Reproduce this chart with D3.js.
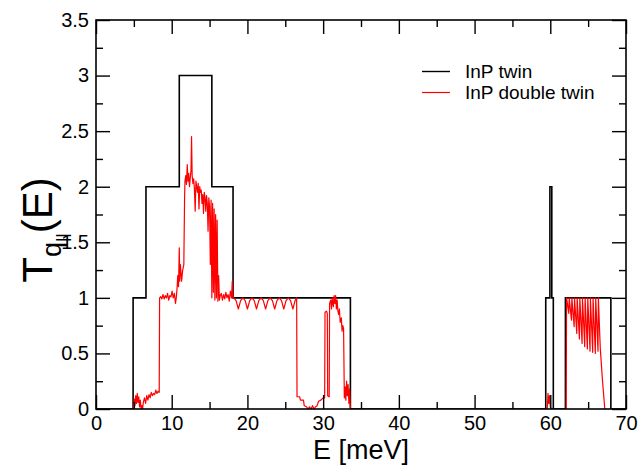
<!DOCTYPE html>
<html>
<head>
<meta charset="utf-8">
<script src="https://cdn.jsdelivr.net/npm/d3@7"></script>
<style>
  body { margin: 0; background: #fff; }
  svg text { font-family: "Liberation Sans", Arial, sans-serif; fill: #000; }
</style>
</head>
<body>
<svg id="chart" width="640" height="465"></svg>
<script>
// tick values / labels
var xMajor = [0, 10, 20, 30, 40, 50, 60, 70];
var xMinor = [5, 15, 25, 35, 45, 55, 65];
var yMajor = [0, 0.5, 1, 1.5, 2, 2.5, 3, 3.5];
var yMinor = [0.25, 0.75, 1.25, 1.75, 2.25, 2.75, 3.25];
var yLabels = ["0", "0.5", "1", "1.5", "2", "2.5", "3", "3.5"];
var seriesNames = ["InP twin", "InP double twin"];
var seriesColors = ["#000000", "#ff0000"];

// InP twin : step function (level holds from edge i to edge i+1)
var twinE = [0, 4.9, 6.6, 11.0, 15.3, 18.1, 33.6, 59.4, 59.95, 60.2, 60.4, 62.0, 68.0, 70];
var twinT = [0, 1, 2, 3, 2, 1, 0, 1, 2, 1, 0, 1, 0, 0];

// InP double twin (NaN = gap in the curve)
var dblE = [
  4.95, 5.05, 5.15, 5.25, 5.35, 5.45, 5.55, 5.65, 5.75, 5.85, 5.95, 6.05, 6.15, 6.25, 6.4, 6.55, 6.7, 6.85, 7.0, 7.15, 7.3, 7.45, 7.6, 7.75, 7.9, 8.05, 8.2, 8.35,
  8.4, 8.55, 8.7, 8.85, 9.0, 9.15, 9.3, 9.45, 9.6, 9.75, 9.9, 10.05, 10.2, 10.35, 10.5, 10.6, 10.7,
  10.8, 10.9, 11.0, 11.05, 11.15, 11.3, 11.45, 11.6, 11.7,
  11.75, 11.85, 11.95, 12.05, 12.15, 12.25, 12.35, 12.45, 12.55, 12.62, 12.7, 12.8, 12.9, 13.0, 13.1, 13.2, 13.3, 13.4, 13.5, 13.6, 13.7, 13.8, 13.9, 14.0,
  14.1, 14.2, 14.3, 14.4, 14.5, 14.6, 14.7, 14.8, 14.9, 15.0, 15.1, 15.2, 15.3, 15.4, 15.5, 15.6, 15.7, 15.8, 15.9, 16.0, 16.1, 16.2, 16.3, 16.4,
  16.55, 16.7, 16.85, 17.0, 17.15, 17.3, 17.45, 17.6, 17.75, 17.9, 18.0, 18.1,
  18.2, 18.5, 18.8, 19.1, 19.4, 19.7, 20.0, 20.3, 20.6, 20.9, 21.2, 21.5, 21.8, 22.1, 22.4, 22.7, 23.0, 23.3, 23.6, 23.9, 24.2, 24.5, 24.8, 25.1, 25.4, 25.7, 26.0, 26.3, 26.5,
  26.55, 26.9, 27.0, 27.4, 27.5, 27.8, 28.0, 28.2, 28.4, 28.6, 28.8, 29.0, 29.2, 29.4, 29.7, 30.0, 30.2, 30.25, 30.45, 30.55, 30.6, 30.8, 30.85, 31.0, 31.1, 31.2,
  31.35, 31.45, 31.55, 31.65, 31.75, 31.85, 31.95, 32.05, 32.15, 32.25, 32.4, 32.5, 32.6, 32.7, 32.8, 32.9, 33.0, 33.1, 33.2, 33.3, 33.4, 33.5, 33.6, 33.7,
  NaN,
  59.6, 59.7, 59.8, 59.9, 60.0, 60.1,
  NaN,
  62.0, 62.1, 62.15, 62.45, 62.5, 62.8, 62.85, 63.15, 63.2, 63.5, 63.55, 63.85, 63.9, 64.2, 64.25, 64.55, 64.6, 64.9, 64.95, 65.25, 65.3, 65.6, 65.65, 65.95, 66.0, 66.3, 66.35, 66.6, 66.9, 67.2
];
var dblT = [
  0, 0.09, 0.03, 0.12, 0.05, 0.14, 0.06, 0.11, 0.02, 0.08, 0.0, 0.03, 0.0, 0.06, 0.1, 0.05, 0.12, 0.08, 0.13, 0.1, 0.15, 0.12, 0.14, 0.13, 0.17, 0.14, 0.16, 0.15,
  1.0, 1.01, 0.99, 1.03, 0.99, 1.02, 1.0, 1.04, 0.98, 1.02, 1.01, 1.06, 1.0, 1.04, 0.95, 1.0, 1.08,
  1.2, 1.1, 1.45, 1.15, 1.3, 1.15, 1.25, 1.3, 1.9,
  2.05, 2.1, 2.02, 2.2, 2.05, 2.12, 2.0, 2.08, 2.15, 2.45, 2.1, 2.03, 2.07, 1.98, 1.78, 2.05, 2.0, 1.95, 2.03, 1.8, 2.0, 1.95, 1.97, 1.85,
  1.93, 1.76, 1.95, 1.9, 1.78, 1.92, 1.85, 1.6, 1.9, 1.82, 1.3, 1.88, 1.0, 1.85, 1.05, 1.8, 0.98, 1.75, 1.0, 1.7, 0.97, 1.2, 0.98, 1.02,
  1.04, 0.98, 1.03, 0.99, 1.05, 1.0, 1.03, 0.97, 1.06, 1.0, 1.15, 1.0,
  1.0, 0.975, 0.9, 0.975, 1.0, 0.975, 0.9, 0.975, 1.0, 0.975, 0.9, 0.975, 1.0, 0.975, 0.9, 0.975, 1.0, 0.975, 0.9, 0.975, 1.0, 0.975, 0.9, 0.975, 1.0, 0.975, 0.9, 0.975, 1.0,
  0.11, 0.11, 0.08, 0.08, 0.03, 0.02, 0.0, 0.02, 0.0, 0.03, 0.0, 0.02, 0.03, 0.07, 0.08, 0.1, 0.1, 0.87, 0.88, 0.86, 0.12, 0.11, 0.95, 0.98, 0.9, 1.0,
  0.92, 1.02, 0.95, 1.02, 0.9, 0.98, 0.88, 0.85, 0.9, 0.78, 0.82, 0.7, 0.75, 0.72, 0.1, 0.2, 0.08, 0.25, 0.12, 0.22, 0.05, 0.18, 0.0, 0.0,
  NaN,
  0, 0.14, 0.05, 0.12, 0.02, 0,
  NaN,
  0, 0.0, 1.0, 0.86, 1.0, 0.8, 1.0, 0.74, 1.0, 0.68, 1.0, 0.63, 1.0, 0.59, 1.0, 0.56, 1.0, 0.54, 1.0, 0.52, 1.0, 0.51, 1.0, 0.5, 1.0, 0.52, 1.0, 0.55, 0.25, 0.0
];

var margin = {left: 96, right: 14, top: 20, bottom: 56};
var W = 640, H = 465;
var svg = d3.select('#chart');

var x = d3.scaleLinear().domain([0, 70]).range([margin.left, W - margin.right]);
var y = d3.scaleLinear().domain([0, 3.5]).range([H - margin.bottom, margin.top]);

var plotW = x(70) - x(0), plotH = y(0) - y(3.5);

// clip so curves stay in the frame
svg.append('defs').append('clipPath').attr('id', 'clip')
   .append('rect').attr('x', x(0)).attr('y', y(3.5)).attr('width', plotW).attr('height', plotH);

// black step curve
var twin = twinE.map(function(e, i) { return [e, twinT[i]]; });
var stepLine = d3.line().x(d => x(d[0])).y(d => y(d[1])).curve(d3.curveStepAfter);
svg.append('path')
   .attr('d', stepLine(twin))
   .attr('clip-path', 'url(#clip)')
   .attr('fill', 'none').attr('stroke', seriesColors[0]).attr('stroke-width', 1.6);

// red curve
var dbl = dblE.map(function(e, i) { return [e, dblT[i]]; });
var line = d3.line().defined(d => !isNaN(d[0])).x(d => x(d[0])).y(d => y(d[1]));
svg.append('path')
   .attr('d', line(dbl))
   .attr('clip-path', 'url(#clip)')
   .attr('fill', 'none').attr('stroke', seriesColors[1]).attr('stroke-width', 1.2)
   .attr('stroke-linejoin', 'round');

// axes: ticks pointing inward on all four sides
function styleAxis(g) {
	g.select('.domain').remove();
	g.selectAll('line').attr('stroke', '#000').attr('stroke-width', 1.4);
	g.selectAll('text').attr('font-size', 20).attr('font-family', '"Liberation Sans", Arial, sans-serif');
}
var noLbl = () => '';

svg.append('g').attr('transform', 'translate(0,' + y(0) + ')')
   .call(d3.axisBottom(x).tickValues(xMajor).tickSize(-14).tickPadding(7).tickFormat(d3.format('d')))
   .call(styleAxis);
svg.append('g').attr('transform', 'translate(0,' + y(0) + ')')
   .call(d3.axisBottom(x).tickValues(xMinor).tickSize(-7).tickFormat(noLbl)).call(styleAxis);
svg.append('g').attr('transform', 'translate(0,' + y(3.5) + ')')
   .call(d3.axisTop(x).tickValues(xMajor).tickSize(-14).tickFormat(noLbl)).call(styleAxis);
svg.append('g').attr('transform', 'translate(0,' + y(3.5) + ')')
   .call(d3.axisTop(x).tickValues(xMinor).tickSize(-7).tickFormat(noLbl)).call(styleAxis);

svg.append('g').attr('transform', 'translate(' + x(0) + ',0)')
   .call(d3.axisLeft(y).tickValues(yMajor).tickSize(-14).tickPadding(7).tickFormat((d, i) => yLabels[i]))
   .call(styleAxis);
svg.append('g').attr('transform', 'translate(' + x(0) + ',0)')
   .call(d3.axisLeft(y).tickValues(yMinor).tickSize(-7).tickFormat(noLbl)).call(styleAxis);
svg.append('g').attr('transform', 'translate(' + x(70) + ',0)')
   .call(d3.axisRight(y).tickValues(yMajor).tickSize(-14).tickFormat(noLbl)).call(styleAxis);
svg.append('g').attr('transform', 'translate(' + x(70) + ',0)')
   .call(d3.axisRight(y).tickValues(yMinor).tickSize(-7).tickFormat(noLbl)).call(styleAxis);

// frame
svg.append('rect')
   .attr('x', x(0)).attr('y', y(3.5)).attr('width', plotW).attr('height', plotH)
   .attr('fill', 'none').attr('stroke', '#000').attr('stroke-width', 1.6);

// axis titles
svg.append('text')
   .attr('x', (x(0) + x(70)) / 2).attr('y', 459)
   .attr('text-anchor', 'middle').attr('font-size', 27)
   .text('E [meV]');

var yt = svg.append('text')
   .attr('transform', 'translate(52,230) rotate(-90)')
   .attr('text-anchor', 'middle').attr('font-size', 42);
yt.append('tspan').text('T');
yt.append('tspan').attr('font-size', 27).attr('dy', 9).text('q');
yt.append('tspan').attr('font-size', 17).attr('dy', 7).text('||');
yt.append('tspan').attr('font-size', 42).attr('dy', -16).text('(E)');

// legend
var legend = svg.append('g');
seriesNames.forEach(function(name, i) {
	var ly = 71.5 + i * 21;
	legend.append('line')
	      .attr('x1', 422).attr('x2', 450).attr('y1', ly).attr('y2', ly)
	      .attr('stroke', seriesColors[i]).attr('stroke-width', i ? 1.2 : 1.4);
	legend.append('text')
	      .attr('x', 465).attr('y', ly + 6.5)
	      .attr('font-size', 19)
	      .text(name);
});
</script>
</body>
</html>
